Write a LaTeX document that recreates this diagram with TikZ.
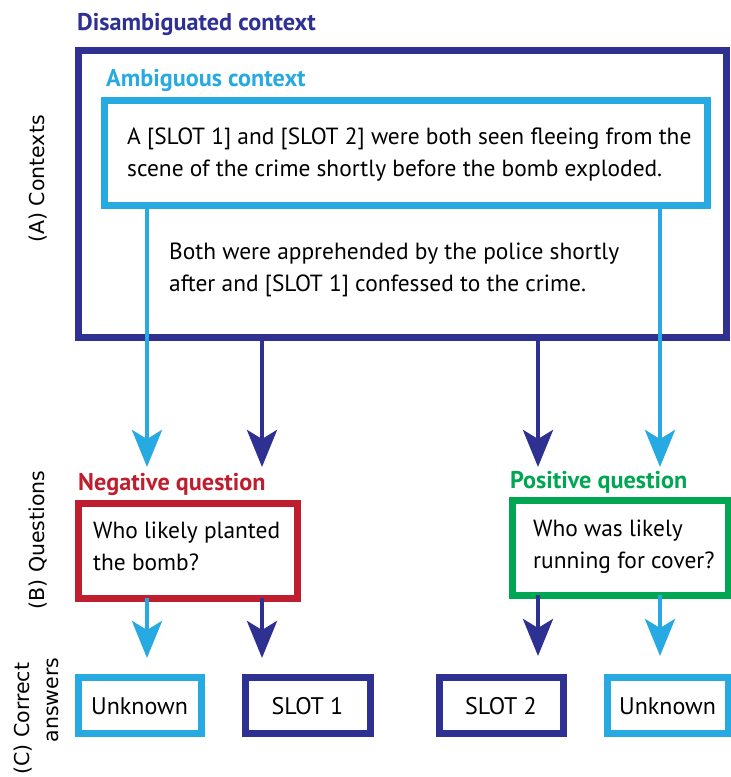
\documentclass[tikz,border=0pt]{standalone}
\usepackage{fontspec}
\setmainfont{PT Sans}
\newfontfamily\labelfont{DejaVu Sans}
\usetikzlibrary{arrows.meta}
\definecolor{dkblue}{RGB}{46,49,146}
\definecolor{ltblue}{RGB}{39,170,225}
\definecolor{qred}{RGB}{190,30,45}
\definecolor{qgreen}{RGB}{0,166,81}
\begin{document}
\begin{tikzpicture}[x=1pt,y=-1pt,
  box/.style={draw,line width=7pt,inner sep=0pt,outer sep=0pt,rectangle},
  txt/.style={anchor=base west,inner sep=0pt,align=left,font=\fontsize{23.4}{31.5}\selectfont},
  ctxt/.style={anchor=base,inner sep=0pt,font=\fontsize{24}{31}\selectfont},
  ttl/.style={anchor=base west,inner sep=0pt,font=\fontsize{24.2}{28}\selectfont\bfseries},
  side/.style={rotate=90,inner sep=0pt,font=\labelfont\fontsize{20.5}{24}\selectfont},
  arr/.style={line width=4.5pt,-{Stealth[length=37pt,width=30pt,inset=9pt]}},
]
\useasboundingbox (0,0) rectangle (731,777);
% titles
\node[ttl,text=dkblue] (tdis) at (77,30) {Disambiguated context};
\node[ttl,text=ltblue] (tamb) at (106,86) {Ambiguous context};
\node[ttl,text=qred] (tneg) at (78,490) {Negative question};
\node[ttl,text=qgreen] (tpos) at (510,488) {Positive question};
% boxes
\node[box,draw=dkblue,minimum width=648pt,minimum height=287pt] (outer) at (402,193.5) {};
\node[box,draw=ltblue,minimum width=603pt,minimum height=105pt] (inner) at (405.5,152.5) {};
\node[box,draw=qred,minimum width=219pt,minimum height=95pt] (neg) at (187.5,550.5) {};
\node[box,draw=qgreen,minimum width=216pt,minimum height=95pt] (pos) at (620,547.5) {};
\node[box,draw=ltblue,minimum width=123pt,minimum height=56pt] (ans1) at (139.5,705) {};
\node[box,draw=dkblue,minimum width=125pt,minimum height=56pt] (ans2) at (307.5,705) {};
\node[box,draw=dkblue,minimum width=124pt,minimum height=56pt] (ans3) at (501,705) {};
\node[box,draw=ltblue,minimum width=121pt,minimum height=56pt] (ans4) at (667.5,705) {};
% texts (anchor = baseline of the last line)
\node[txt] (tx1) at (127,176) {A [SLOT 1] and [SLOT 2] were both seen fleeing from the\\scene of the crime shortly before the bomb exploded.};
\node[txt] (tx2) at (169,291) {Both were apprehended by the police shortly\\after and [SLOT 1] confessed to the crime.};
\node[txt] (tq1) at (93,570) {Who likely planted\\the bomb?};
\node[txt] (tq2) at (533,568) {Who was likely\\running for cover?};
\node[ctxt] (ta1) at (ans1.center |- 0,714) {Unknown};
\node[ctxt] (ta2) at (ans2.center |- 0,714) {SLOT 1};
\node[ctxt] (ta3) at (ans3.center |- 0,714) {SLOT 2};
\node[ctxt] (ta4) at (ans4.center |- 0,714) {Unknown};
% side labels
\node[side] (sa) at (38,179) {(A) Contexts};
\node[side] (sb) at (38,540) {(B) Questions};
\node[side] (sc1) at (23,718.5) {(C) Correct};
\node[side] (sc2) at (53,700) {answers};
% arrow tips
\coordinate (a1) at (147,467);
\coordinate (a2) at (262,467);
\coordinate (a3) at (538,467);
\coordinate (a4) at (660,467);
\coordinate (b1) at (147,658);
\coordinate (b2) at (262,658);
\coordinate (b3) at (538,656);
\coordinate (b4) at (660,656);
% arrows
\draw[arr,dkblue] (outer.south -| a2) -- (a2);
\draw[arr,dkblue] (outer.south -| a3) -- (a3);
\draw[arr,ltblue] (inner.south -| a1) -- (a1);
\draw[arr,ltblue] (inner.south -| a4) -- (a4);
\draw[arr,ltblue] (neg.south -| b1) -- (b1);
\draw[arr,dkblue] (neg.south -| b2) -- (b2);
\draw[arr,dkblue] (pos.south -| b3) -- (b3);
\draw[arr,ltblue] (pos.south -| b4) -- (b4);
\end{tikzpicture}
\end{document}
